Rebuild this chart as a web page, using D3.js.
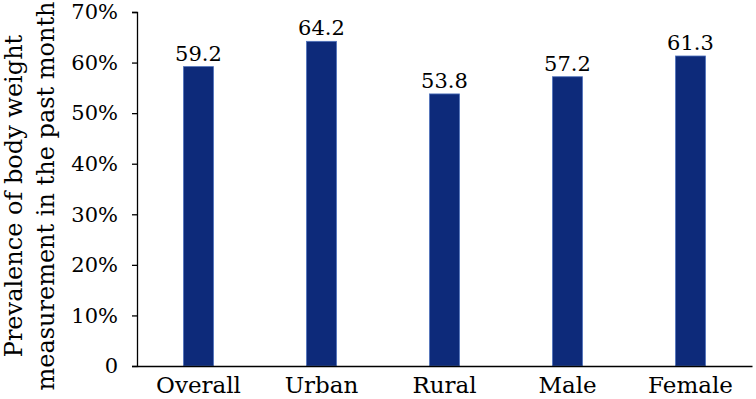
<!DOCTYPE html>
<html>
<head>
<meta charset="utf-8">
<script src="https://cdn.jsdelivr.net/npm/d3@7"></script>
<style>
  body { margin: 0; background: #fff; }
  text { font-family: "DejaVu Serif", "Liberation Serif", serif; fill: #000; }
</style>
</head>
<body>
<div id="chart-container"></div>
<script>
// data
const categories = ["Overall", "Urban", "Rural", "Male", "Female"];
const values = [59.2, 64.2, 53.8, 57.2, 61.3];
const yTicks = [0, 10, 20, 30, 40, 50, 60, 70];
const titleLines = ["Prevalence of body weight", "measurement in the past month"];

const width = 756, height = 399;
const plotLeft = 137, plotRight = 752, plotTop = 12, plotBottom = 366;

const svg = d3.select("#chart-container")
  .append("svg")
  .attr("width", width)
  .attr("height", height);

const x = d3.scaleBand()
  .domain(categories)
  .range([plotLeft, plotRight])
  .paddingInner(0.756)
  .paddingOuter(0.378);

const y = d3.scaleLinear()
  .domain([0, 70])
  .range([plotBottom, plotTop]);

// y axis
const yAxis = svg.append("g")
  .attr("transform", `translate(${plotLeft},0)`)
  .call(d3.axisLeft(y)
    .tickValues(yTicks)
    .tickSize(5)
    .tickPadding(14)
    .tickFormat(d => d === 0 ? "0" : d + "%"));
yAxis.select(".domain").attr("stroke", "#000").attr("stroke-width", 1.3);
yAxis.selectAll(".tick line").attr("stroke", "#000").attr("stroke-width", 1.3);
yAxis.selectAll("text").style("font-size", "21px")
  .style("font-family", "'DejaVu Serif', serif");

// bars
svg.selectAll(".bar")
  .data(values)
  .enter()
  .append("rect")
  .attr("class", "bar")
  .attr("x", (d, i) => x(categories[i]))
  .attr("y", d => y(d))
  .attr("width", x.bandwidth())
  .attr("height", d => y(0) - y(d))
  .attr("fill", "#0d2a7a")
  .attr("stroke", "#4f72bd")
  .attr("stroke-width", 0.8);

// value labels
svg.selectAll(".val")
  .data(values)
  .enter()
  .append("text")
  .attr("class", "val")
  .attr("x", (d, i) => x(categories[i]) + x.bandwidth() / 2)
  .attr("y", d => y(d) - 6)
  .attr("text-anchor", "middle")
  .style("font-size", "21px")
  .text(d => d.toFixed(1));

// x axis
const xAxis = svg.append("g")
  .attr("transform", `translate(0,${plotBottom})`)
  .call(d3.axisBottom(x).tickSize(0).tickPadding(10).tickSizeOuter(0));
xAxis.select(".domain").attr("stroke", "#000").attr("stroke-width", 1.3);
xAxis.selectAll("text")
  .attr("dy", 0)
  .attr("y", 27)
  .style("font-size", "23px")
  .style("font-family", "'DejaVu Serif', serif");

// y title
const title = svg.append("text")
  .attr("transform", "translate(0,196) rotate(-90)")
  .attr("text-anchor", "middle")
  .style("font-size", "24px");
titleLines.forEach((t, i) => {
  title.append("tspan").attr("x", 0).attr("y", 22 + i * 32).text(t);
});
</script>
</body>
</html>
